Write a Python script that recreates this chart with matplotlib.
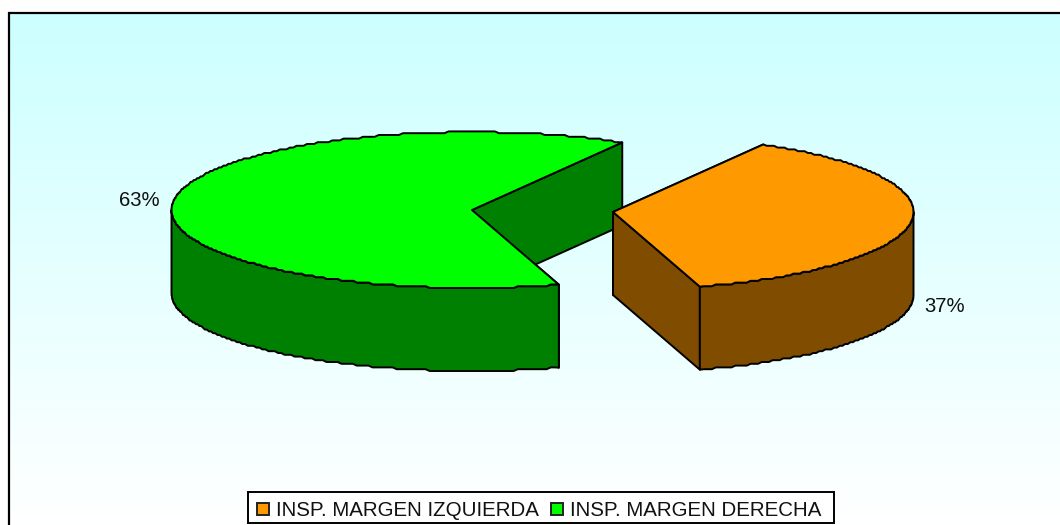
import numpy as np
import matplotlib
matplotlib.use("Agg")
import matplotlib.pyplot as plt
from matplotlib.patches import Polygon, Rectangle

categories = ["INSP. MARGEN IZQUIERDA", "INSP. MARGEN DERECHA"]
shares = [37, 63]
face_colors = ["#FF9900", "#00FF00"]
side_colors = ["#804D00", "#008000"]

W, H = 1060, 525
plt.rcParams['font.family'] = ['Liberation Sans', 'DejaVu Sans']
fig = plt.figure(figsize=(W / 100, H / 100), dpi=100, facecolor="white")
ax = fig.add_axes([0, 0, 1, 1])

# background gradient and frame
grad = np.linspace(0, 1, 256).reshape(-1, 1, 1)
top = np.array([0.80, 1.0, 1.0]).reshape(1, 1, 3)
img = top * (1 - grad) + grad
ax.imshow(img, extent=(9, W + 5, H, 13), aspect="auto", zorder=0, interpolation="bilinear")
ax.set_xlim(0, W)
ax.set_ylim(H, 0)
ax.axis("off")
ax.plot([9, 9, W + 5], [H + 5, 13, 13], color="black", lw=1.6, zorder=1, solid_joinstyle="miter")

RX, RY, DEPTH = 300.5, 78.0, 83.0
START = 60.0
EDGE = dict(edgecolor="black", linewidth=1.4, joinstyle="round")
centres = [(613.0, 212.0), (472.0, 210.0)]


def arc(cx, cy, t0, t1, step=0.8):
    """Elliptic arc with the slightly scalloped outline of the original."""
    n = max(int(abs(t1 - t0) / step), 2)
    t = np.radians(np.linspace(t0, t1, n + 1))
    x = cx + RX * np.cos(t)
    y = cy - RY * np.sin(t)
    y[1:-1] = np.round(y[1:-1] / 1.8) * 1.8
    return np.column_stack([x, y])


def slice3d(i, t0, t1, z):
    cx, cy = centres[i]
    top_arc = arc(cx, cy, t0, t1)
    apex = np.array([cx, cy])
    down = np.array([0, DEPTH])
    for end in (top_arc[0], top_arc[-1]):
        # radial cut walls
        q = np.array([apex, end, end + down, apex + down])
        ax.add_patch(Polygon(q, closed=True, facecolor=side_colors[i], zorder=z, **EDGE))
    # outer wall: the part of the rim facing the viewer
    lo, hi = min(t0, t1), max(t0, t1)
    for k in range(-2, 2):
        a0, a1 = max(lo, -180 + 360 * k), min(hi, 0 + 360 * k)
        if a1 > a0:
            rim = arc(cx, cy, a0, a1)
            ax.add_patch(Polygon(np.vstack([rim, (rim + down)[::-1]]), closed=True,
                                 facecolor=side_colors[i], zorder=z + 0.1, **EDGE))
    ax.add_patch(Polygon(np.vstack([apex, top_arc]), closed=True,
                         facecolor=face_colors[i], zorder=z + 0.2, **EDGE))


angles = np.cumsum([0] + shares) / sum(shares) * 360
# clockwise from START
slice3d(1, START - angles[1], START - angles[2], 3)
slice3d(0, START - angles[0], START - angles[1], 4)

ax.text(945, 307, f"{shares[0]}%", ha="center", va="center", fontsize=14.6, color="#111111", zorder=6)
ax.text(139, 200, f"{shares[1]}%", ha="center", va="center", fontsize=14.6, color="#111111", zorder=6)

# legend
ax.add_patch(Rectangle((248, 491.5), 586, 31, facecolor="white", edgecolor="black", linewidth=1.4, zorder=6))
for sx, tx, name, col in zip((257, 551), (276, 570), categories, face_colors):
    ax.add_patch(Rectangle((sx, 503), 12, 12, facecolor=col, edgecolor="#222222", linewidth=1.4, zorder=7))
    ax.text(tx, 510, name, ha="left", va="center", fontsize=14.8, color="#111111", zorder=7)

fig.savefig("out.png", dpi=100, facecolor="white")
